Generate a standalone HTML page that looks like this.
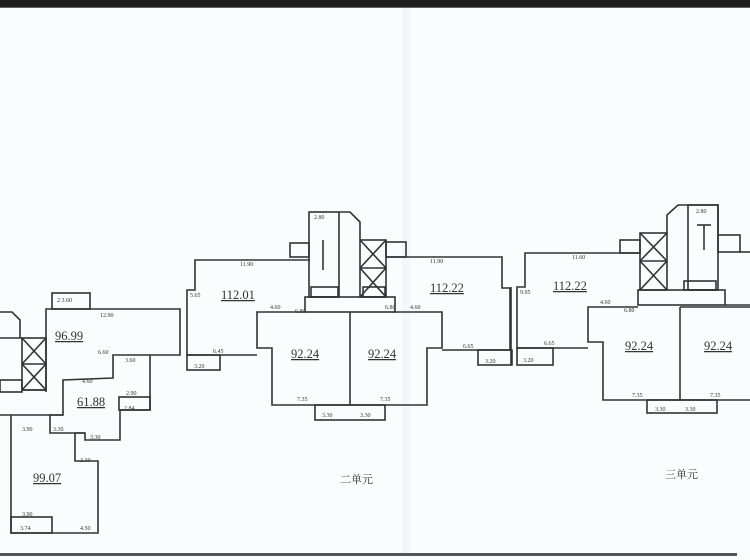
<!DOCTYPE html>
<html><head><meta charset="utf-8"><style>
html,body{margin:0;padding:0;width:750px;height:560px;overflow:hidden;background:#fbfcfe}
svg{display:block}
text{font-family:"Liberation Serif","Noto Serif CJK SC",serif;fill:#333}
.a{font-size:12.5px;text-decoration:underline}
.d{font-size:6px;fill:#555}
</style></head><body>
<svg width="750" height="560" viewBox="0 0 750 560" xmlns="http://www.w3.org/2000/svg">
<rect x="0" y="0" width="750" height="7" fill="#1e1e1e"/>
<rect x="0" y="7" width="750" height="1" fill="#666"/>
<rect x="402" y="8" width="8" height="546" fill="#f4f6fc"/>
<rect x="0" y="553" width="737" height="3" fill="#555"/>
<g fill="none" stroke="#333" stroke-width="1.6">
<rect x="52" y="293" width="38" height="16"/>
<polyline points="46,392 46,309 180,309 180,355 150,355 150,410 120,410 120,440 85,440 85,433 75,433 75,461 98,461 98,533 11,533 11,415"/>
<polyline points="150,355 113,355 113,378 63,380 63,415 0,415"/>
<rect x="119" y="397" width="31" height="13"/>
<polyline points="63,415 50,415 50,433 85,433"/>
<rect x="11" y="517" width="41" height="16"/>
<rect x="22" y="338" width="24" height="52"/>
<path d="M22,338 L46,364 M46,338 L22,364 M22,364 L46,390 M46,364 L22,390 M22,364 H46"/>
<polyline points="0,312 12,312 20,320 20,338"/>
<line x1="0" y1="338" x2="22" y2="338"/>
<rect x="0" y="380" width="22" height="12"/>
<line x1="22" y1="390" x2="46" y2="390"/>
<polyline points="310,260 195,260 195,290 187,290 187,355 257,355"/>
<rect x="187" y="355" width="33" height="15"/>
<polyline points="305,312 257,312 257,348 272,348 272,405 427,405 427,348 442,348 442,312 393,312"/>
<line x1="350" y1="312" x2="350" y2="405"/>
<rect x="315" y="405" width="70" height="15"/>
<polyline points="386,257 502,257 502,288 510,288 510,350 442,350"/>
<rect x="478" y="350" width="34" height="15"/>
<rect x="305" y="297" width="90" height="15"/>
<rect x="309" y="212" width="30" height="85"/>
<polyline points="339,212 350,212 360,222 360,240"/>
<rect x="360" y="240" width="26" height="57"/>
<path d="M360,240 L386,268 M386,240 L360,268 M360,268 L386,297 M386,268 L360,297 M360,268 H386"/>
<rect x="290" y="243" width="19" height="14"/>
<rect x="386" y="242" width="20" height="15"/>
<line x1="323" y1="240" x2="323" y2="270"/>
<rect x="311" y="287" width="27" height="10"/>
<rect x="363" y="287" width="22" height="10"/>
<line x1="511" y1="287" x2="511" y2="365"/>
<polyline points="640,253 525,253 525,287 517,287 517,348 588,348"/>
<rect x="517" y="348" width="36" height="17"/>
<polyline points="638,307 588,307 588,342 603,342 603,400 750,400"/>
<line x1="680" y1="307" x2="750" y2="307"/>
<line x1="680" y1="307" x2="680" y2="400"/>
<rect x="647" y="400" width="70" height="13"/>
<rect x="638" y="290" width="87" height="15"/>
<rect x="640" y="233" width="27" height="57"/>
<path d="M640,233 L667,261 M667,233 L640,261 M640,261 L667,290 M667,261 L640,290 M640,261 H667"/>
<polyline points="667,233 667,215 678,205 718,205 718,235"/>
<rect x="688" y="205" width="30" height="85"/>
<line x1="704" y1="225" x2="704" y2="250"/>
<line x1="697" y1="225" x2="711" y2="225"/>
<rect x="620" y="240" width="20" height="13"/>
<rect x="718" y="235" width="22" height="17"/>
<line x1="740" y1="252" x2="750" y2="252"/>
<rect x="684" y="281" width="32" height="9"/>
<line x1="725" y1="305" x2="750" y2="305"/>
</g>
<text class="a" x="55" y="340">96.99</text>
<text class="a" x="77" y="406">61.88</text>
<text class="a" x="33" y="482">99.07</text>
<text class="a" x="221" y="299">112.01</text>
<text class="a" x="291" y="358">92.24</text>
<text class="a" x="368" y="358">92.24</text>
<text class="a" x="430" y="292">112.22</text>
<text class="a" x="553" y="290">112.22</text>
<text class="a" x="625" y="350">92.24</text>
<text class="a" x="704" y="350">92.24</text>
<text x="340" y="483" style="font-size:11px">二单元</text>
<text x="665" y="478" style="font-size:11px">三单元</text>
<g class="d">
<text x="57" y="302">2 3.60</text><text x="100" y="317">12.90</text><text x="98" y="354">6.60</text>
<text x="82" y="383">4.60</text><text x="125" y="362">3.60</text><text x="126" y="395">2.90</text><text x="124" y="410">2.84</text>
<text x="90" y="439">3.30</text><text x="53" y="431">3.30</text><text x="80" y="462">2.30</text>
<text x="22" y="516">3.90</text><text x="20" y="530">3.74</text><text x="80" y="530">4.50</text><text x="22" y="431">3.90</text>
<text x="240" y="266">11.90</text><text x="190" y="297">5.65</text><text x="213" y="353">6.45</text><text x="194" y="368">3.20</text>
<text x="270" y="309">4.60</text><text x="295" y="313">6.80</text><text x="297" y="401">7.35</text><text x="380" y="401">7.35</text>
<text x="322" y="417">3.30</text><text x="360" y="417">3.30</text><text x="430" y="263">11.90</text><text x="385" y="309">6.80</text>
<text x="410" y="309">4.60</text><text x="463" y="348">6.65</text><text x="485" y="363">3.20</text><text x="314" y="219">2.80</text>
<text x="572" y="259">11.60</text><text x="520" y="294">9.95</text><text x="544" y="345">6.65</text><text x="523" y="362">3.20</text>
<text x="600" y="304">4.60</text><text x="624" y="312">6.80</text><text x="632" y="397">7.35</text><text x="710" y="397">7.35</text>
<text x="655" y="411">3.30</text><text x="685" y="411">3.30</text><text x="696" y="213">2.80</text>
</g>
</svg>
</body></html>
